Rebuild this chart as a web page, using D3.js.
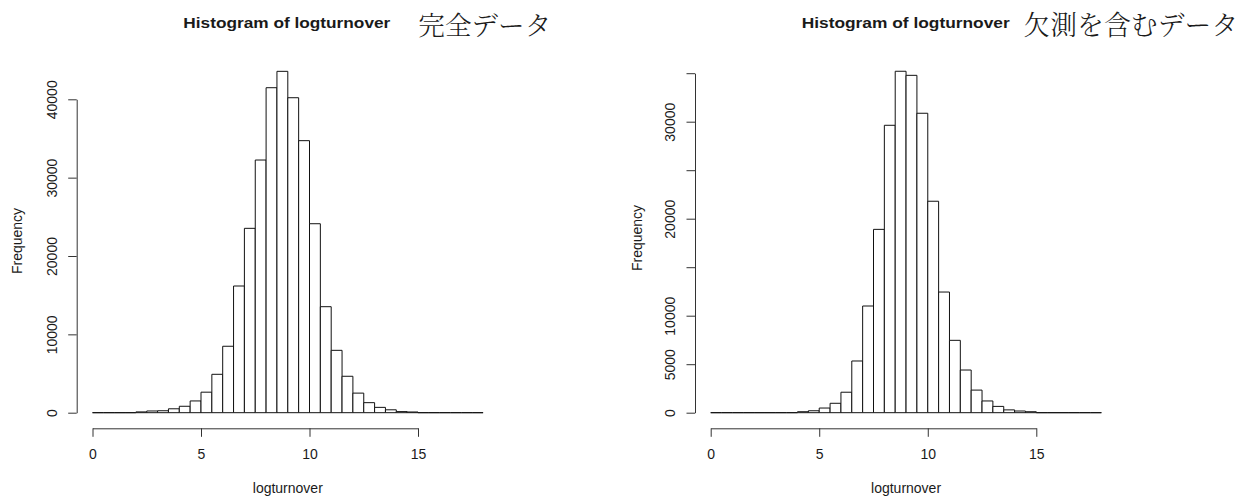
<!DOCTYPE html>
<html>
<head>
<meta charset="utf-8">
<script src="https://cdn.jsdelivr.net/npm/d3@7"></script>
<style>
  html, body { margin: 0; padding: 0; background: #fff; }
  svg text { font-family: "Liberation Sans", Arial, Helvetica, sans-serif; fill: #1a1a1a; }
</style>
</head>
<body>
<svg id="chart" width="1251" height="497"></svg>
<script>
// ---- data ----
const breakStart = 0, breakEnd = 18, breakStep = 0.5;
// counts per 0.5-wide bin, from 0 to 18
const countsComplete = [
  0, 0, 0, 0,
  100, 220, 250, 500, 820, 1500,
  2620, 4900, 8480, 16170, 23530, 32250, 41480, 43570, 40200, 34720,
  24120, 13530, 7960, 4650, 2500, 1280, 680, 370, 140, 90,
  0, 0, 0, 0, 0, 0
];
const countsMissing = [
  0, 0, 0, 0, 0, 0, 0, 0,
  100, 200, 480, 970, 2110, 5330, 11000, 18900, 29630, 35200,
  34780, 30870, 21800, 12440, 7460, 4400, 2330, 1210, 650, 290,
  175, 100,
  0, 0, 0, 0, 0, 0
];
const xTicks = [0, 5, 10, 15];
const yTicksComplete = [0, 10000, 20000, 30000, 40000];
const yTickLabelsComplete = ["0", "10000", "20000", "30000", "40000"];
const yTicksMissing = [0, 5000, 10000, 15000, 20000, 25000, 30000, 35000];
const yTickLabelsMissing = ["0", "5000", "10000", "", "20000", "", "30000", ""];
const mainTitle = "Histogram of logturnover";
const subTitleComplete = "完全データ";
const subTitleMissing = "欠測を含むデータ";
const xLabel = "logturnover";
const yLabel = "Frequency";

const svg = d3.select("#chart");

function binsFrom(counts) {
  return counts.map((c, i) => ({
    x0: breakStart + i * breakStep,
    x1: breakStart + (i + 1) * breakStep,
    count: c
  }));
}

function drawHist(opt) {
  const g = svg.append("g");
  const x = d3.scaleLinear().domain([0, 15]).range(opt.xRange);
  const y = d3.scaleLinear().domain([0, opt.yTicks[opt.yTicks.length - 1]]).range(opt.yRange);
  const bins = binsFrom(opt.counts);

  // bars (paths so that empty bins still draw a flat line like R)
  g.append("g").selectAll("path").data(bins).join("path")
    .attr("d", d => {
      const p = d3.path();
      p.moveTo(x(d.x0), y(0));
      p.lineTo(x(d.x0), y(d.count));
      p.lineTo(x(d.x1), y(d.count));
      p.lineTo(x(d.x1), y(0));
      p.closePath();
      return p.toString();
    })
    .attr("fill", "#fff")
    .attr("stroke", "#111")
    .attr("stroke-width", 1);

  // x axis
  const xAxis = d3.axisBottom(x).tickValues(xTicks).tickFormat(d3.format("d"))
    .tickSize(8.5).tickSizeOuter(0);
  const gx = g.append("g").attr("transform", `translate(0,${opt.xAxisY})`).call(xAxis);
  gx.select(".domain").attr("stroke", "#333");
  gx.selectAll(".tick line").attr("stroke", "#333");
  gx.selectAll(".tick text").attr("y", 25.7).attr("dy", "0.35em")
    .attr("font-size", 14).attr("fill", "#1a1a1a")
    .attr("font-family", "Liberation Sans, Arial, sans-serif");

  // y axis
  const yAxis = d3.axisLeft(y).tickValues(opt.yTicks)
    .tickFormat((d, i) => opt.yTickLabels[i])
    .tickSize(8.5).tickSizeOuter(0);
  const gy = g.append("g").attr("transform", `translate(${opt.yAxisX},0)`).call(yAxis);
  gy.select(".domain").attr("stroke", "#333");
  gy.selectAll(".tick line").attr("stroke", "#333");
  gy.selectAll(".tick text")
    .attr("x", null).attr("dy", null)
    .attr("transform", "translate(-25,0) rotate(-90)")
    .attr("dy", "0.35em")
    .attr("text-anchor", "middle")
    .attr("font-size", 14).attr("fill", "#1a1a1a")
    .attr("font-family", "Liberation Sans, Arial, sans-serif");

  // axis titles
  g.append("text")
    .attr("x", (x(breakStart) + x(breakEnd)) / 2)
    .attr("y", opt.xLabelY).attr("dy", "0.35em")
    .attr("text-anchor", "middle").attr("font-size", 14)
    .text(xLabel);
  g.append("text")
    .attr("transform", `translate(${opt.yLabelX},${opt.yLabelY}) rotate(-90)`)
    .attr("dy", "0.35em")
    .attr("text-anchor", "middle").attr("font-size", 14)
    .text(yLabel);

  // main title + Japanese note
  g.append("text")
    .attr("x", opt.titleX).attr("y", 28.3)
    .attr("font-size", 15.5).attr("font-weight", "bold")
    .attr("textLength", opt.titleLen).attr("lengthAdjust", "spacingAndGlyphs")
    .text(mainTitle);
  g.append("text")
    .attr("x", opt.subX).attr("y", 34.5)
    .attr("font-size", opt.subSize)
    .attr("font-weight", 300)
    .style("font-family", "'Noto Serif CJK JP', 'Noto Sans CJK JP', sans-serif")
    .attr("fill", "#111")
    .attr("textLength", opt.subLen).attr("lengthAdjust", "spacingAndGlyphs")
    .text(opt.subTitle);
}

drawHist({
  counts: countsComplete,
  xRange: [92.5, 418],
  yRange: [412.7, 99.3],
  yTicks: yTicksComplete,
  yTickLabels: yTickLabelsComplete,
  xAxisY: 428.3,
  yAxisX: 76.7,
  xLabelY: 488,
  yLabelX: 17.3,
  yLabelY: 241,
  titleX: 183.3, titleLen: 207,
  subX: 418.3, subLen: 133, subSize: 26.5,
  subTitle: subTitleComplete
});

drawHist({
  counts: countsMissing,
  xRange: [710.7, 1036.3],
  yRange: [412.7, 73.2],
  yTicks: yTicksMissing,
  yTickLabels: yTickLabelsMissing,
  xAxisY: 428.3,
  yAxisX: 695,
  xLabelY: 488,
  yLabelX: 636.7,
  yLabelY: 238,
  titleX: 801.7, titleLen: 208,
  subX: 1023.3, subLen: 215, subSize: 26.9,
  subTitle: subTitleMissing
});
</script>
</body>
</html>
